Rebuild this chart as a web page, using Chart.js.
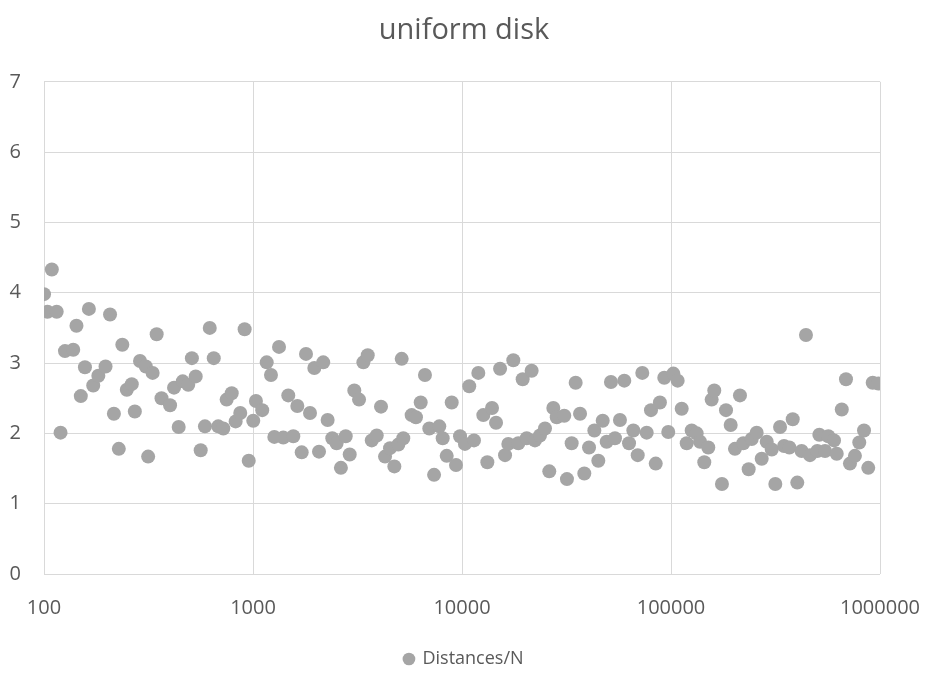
<!DOCTYPE html>
<html><head><meta charset="utf-8">
<script src="https://cdn.jsdelivr.net/npm/chart.js@4"></script>
<style>html,body{margin:0;padding:0;background:#fff}</style>
</head><body>
<canvas id="c" width="928" height="673"></canvas>
<script>
const chartTitle = 'uniform disk';
const seriesName = 'Distances/N';
const xTicks = [100, 1000, 10000, 100000, 1000000];
const yTicks = [0, 1, 2, 3, 4, 5, 6, 7];

const nValues = [
  100,104,109,115,120,126,138,143,150,157,164,172,182,197,207,216,228,237,249,263,272,288,307,315,331,346,365,401,419,441,461,490,510,532,562,589,621,649,682,721,748,791,826,869,912,954,1003,1033,
  1107,1163,1219,1265,1332,1396,1475,1559,1630,1710,1793,1874,1965,2069,2168,2276,2395,2512,2634,2777,2902,3053,3217,3373,3540,3700,3909,4097,4283,4525,4746,4959,5145,5237,5743,6021,6344,6650,6975,7351,7787,8084,8450,8929,9361,9785,
  10330,10830,11410,11970,12650,13220,13920,14550,15210,16070,16660,17600,18600,19510,20400,21540,22340,23610,24950,26160,27350,28390,30850,31780,33470,34980,36710,38480,40530,42980,44900,47120,49220,51610,53940,56990,59780,62980,66030,69300,72880,76500,80220,84510,88510,92870,97030,102600,107600,
  112500,118900,125600,132700,137700,144300,150800,156500,161100,175300,183300,193000,202300,213800,221800,235300,243300,257000,271600,287100,303400,315600,332500,347500,368400,382300,402000,421800,442400,462300,501200,512600,545800,566100,602600,620800,656300,687500,718200,758700,795700,838500,878700,922700,981300
];
const distances = [
  3.98,3.73,4.33,3.73,2.01,3.17,3.19,3.53,2.53,2.94,3.77,2.68,2.82,2.95,3.69,2.28,1.78,3.26,2.62,2.70,2.31,3.03,2.95,1.67,2.86,3.41,2.50,2.40,2.65,2.09,2.74,2.69,3.07,2.81,1.76,2.10,3.50,3.07,2.10,2.07,2.48,2.57,2.17,2.29,3.48,1.61,2.18,2.46,
  2.33,3.01,2.83,1.95,3.23,1.94,2.54,1.96,2.39,1.73,3.13,2.29,2.93,1.74,3.01,2.19,1.93,1.86,1.51,1.96,1.70,2.61,2.48,3.01,3.11,1.90,1.97,2.38,1.67,1.79,1.53,1.84,3.06,1.93,2.26,2.23,2.44,2.83,2.07,1.41,2.10,1.93,1.68,2.44,1.55,1.96,
  1.85,2.67,1.90,2.86,2.26,1.59,2.36,2.15,2.92,1.69,1.85,3.04,1.86,2.77,1.93,2.89,1.90,1.97,2.07,1.46,2.36,2.23,2.25,1.35,1.86,2.72,2.28,1.43,1.80,2.04,1.61,2.18,1.88,2.73,1.93,2.19,2.75,1.86,2.04,1.69,2.86,2.01,2.33,1.57,2.44,2.79,2.02,2.85,2.75,
  2.35,1.86,2.04,2.00,1.88,1.59,1.80,2.48,2.61,1.28,2.33,2.12,1.78,2.54,1.86,1.49,1.92,2.01,1.64,1.88,1.77,1.28,2.09,1.82,1.80,2.20,1.30,1.75,3.40,1.69,1.75,1.98,1.75,1.96,1.90,1.71,2.34,2.77,1.57,1.68,1.87,2.04,1.51,2.72,2.71
];

const FONT = 'Open Sans';
const TEXT = '#595959';
const GRID = '#d9d9d9';
const MARK = '#a5a5a5';

new Chart(document.getElementById('c').getContext('2d'), {
  type: 'scatter',
  data: {
    datasets: [{
      label: seriesName,
      data: nValues.map((n, i) => ({ x: n, y: distances[i] })),
      backgroundColor: MARK,
      borderColor: MARK,
      borderWidth: 0,
      pointRadius: 7,
      pointHoverRadius: 7
    }]
  },
  options: {
    responsive: false,
    animation: false,
    devicePixelRatio: 1,
    layout: { padding: { left: 0, right: 0, top: 0, bottom: -5 } },
    plugins: {
      title: {
        display: true, text: chartTitle, color: TEXT,
        font: { family: FONT, size: 29, weight: 'normal' },
        padding: { top: 13, bottom: 34 }
      },
      legend: {
        position: 'bottom',
        labels: {
          usePointStyle: true, pointStyle: 'circle', boxWidth: 9, boxHeight: 9,
          color: TEXT, font: { family: FONT, size: 18 }, padding: 10
        }
      },
      tooltip: { enabled: false }
    },
    scales: {
      x: {
        type: 'logarithmic', min: 100, max: 1000000,
        afterBuildTicks: s => { s.ticks = xTicks.map(v => ({ value: v })); },
        afterFit: s => { s.height = 66; s.paddingRight = 48; s.paddingLeft = 0; },
        ticks: { callback: v => String(v), color: TEXT, font: { family: FONT, size: 20 }, padding: 22, maxRotation: 0, autoSkip: false },
        grid: { color: GRID, drawTicks: false },
        border: { display: false }
      },
      y: {
        min: 0, max: 7,
        afterBuildTicks: s => { s.ticks = yTicks.map(v => ({ value: v })); },
        afterFit: s => { s.width = 44; },
        ticks: { color: TEXT, font: { family: FONT, size: 20 }, padding: 23 },
        grid: { color: GRID, drawTicks: false },
        border: { display: false }
      }
    }
  }
});
</script>
</body></html>
